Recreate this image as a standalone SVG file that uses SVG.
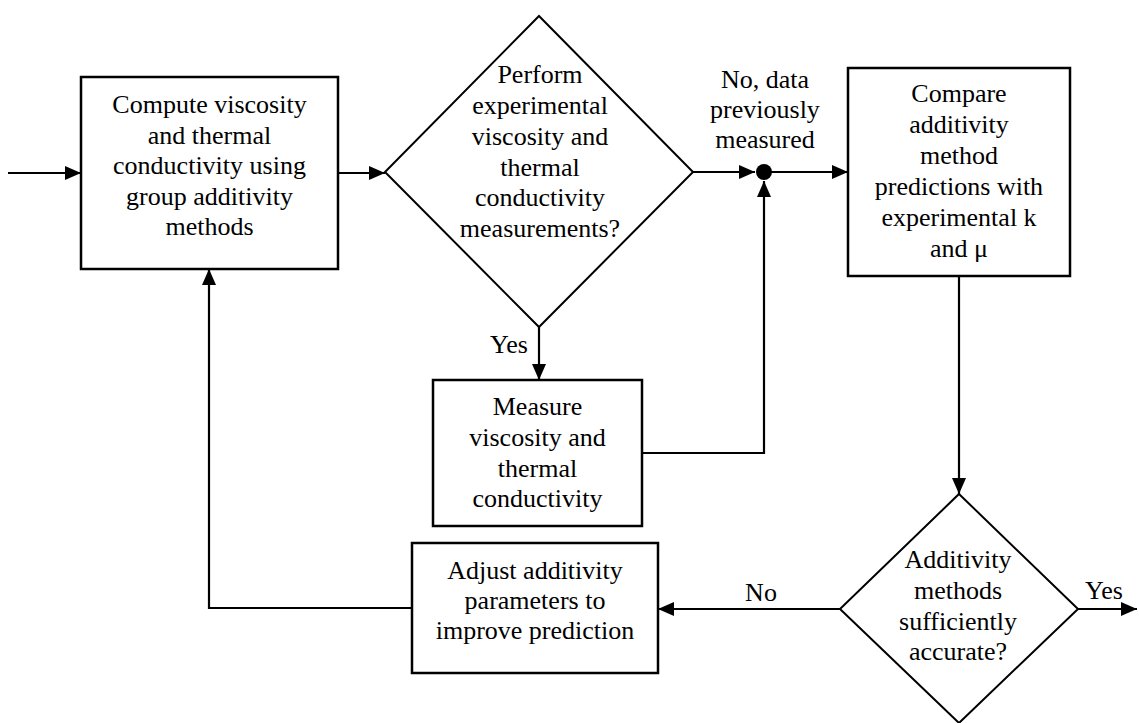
<svg xmlns="http://www.w3.org/2000/svg" width="1139" height="723" viewBox="0 0 1139 723">
<style>
.box{fill:#fff;stroke:#000;stroke-width:2.5}
.dia{fill:#fff;stroke:#000;stroke-width:2}
.con{fill:none;stroke:#000;stroke-width:2.2}
text{font-family:"Liberation Serif","Times New Roman",serif;font-size:26px;fill:#000;text-anchor:middle}
</style>
<defs>
<marker id="arr" markerWidth="16" markerHeight="14" refX="16" refY="7" orient="auto" markerUnits="userSpaceOnUse"><path d="M0,0 L16,7 L0,14 z" fill="#000"/></marker>
</defs>
<rect width="1139" height="723" fill="#fff"/>
<g id="connectors">
<path class="con" d="M8,173 H81" marker-end="url(#arr)"/>
<path class="con" d="M338,173 H385" marker-end="url(#arr)"/>
<path class="con" d="M693,172 H755" marker-end="url(#arr)"/>
<path class="con" d="M764,172 H848" marker-end="url(#arr)"/>
<path class="con" d="M539,327 V380" marker-end="url(#arr)"/>
<path class="con" d="M642,453 H764 V181" marker-end="url(#arr)"/>
<path class="con" d="M959,276 V494" marker-end="url(#arr)"/>
<path class="con" d="M1078,609 H1137" marker-end="url(#arr)"/>
<path class="con" d="M840,609 H658" marker-end="url(#arr)"/>
<path class="con" d="M412,608 H209 V269" marker-end="url(#arr)"/>
<circle cx="764" cy="172" r="8" fill="#000"/>
<text x="765" y="88">No, data</text>
<text x="765" y="118">previously</text>
<text x="765" y="148">measured</text>
<text x="509" y="353">Yes</text>
<text x="761" y="601">No</text>
<text x="1104" y="599">Yes</text>
</g>
<g id="compute">
<rect class="box" x="81" y="77" width="257" height="192"/>
<text x="209.5" y="113">Compute viscosity</text>
<text x="209.5" y="143.5">and thermal</text>
<text x="209.5" y="174">conductivity using</text>
<text x="209.5" y="204.5">group additivity</text>
<text x="209.5" y="235">methods</text>
</g>
<g id="perform">
<polygon class="dia" points="539,16 693,172 539,327 385,172"/>
<text x="540" y="83">Perform</text>
<text x="540" y="114">experimental</text>
<text x="540" y="145">viscosity and</text>
<text x="540" y="176">thermal</text>
<text x="540" y="206">conductivity</text>
<text x="540" y="237">measurements?</text>
</g>
<g id="measure">
<rect class="box" x="433" y="380" width="209" height="146"/>
<text x="537.5" y="415">Measure</text>
<text x="537.5" y="446">viscosity and</text>
<text x="537.5" y="477">thermal</text>
<text x="537.5" y="507">conductivity</text>
</g>
<g id="compare">
<rect class="box" x="848" y="68" width="222" height="208"/>
<text x="959" y="102">Compare</text>
<text x="959" y="133">additivity</text>
<text x="959" y="164">method</text>
<text x="959" y="195">predictions with</text>
<text x="959" y="226">experimental k</text>
<text x="959" y="257">and μ</text>
</g>
<g id="accurate">
<polygon class="dia" points="959,494 1078,609 959,723 840,609"/>
<text x="958" y="568">Additivity</text>
<text x="958" y="599">methods</text>
<text x="958" y="630">sufficiently</text>
<text x="958" y="660">accurate?</text>
</g>
<g id="adjust">
<rect class="box" x="412" y="543" width="246" height="130"/>
<text x="535" y="579">Adjust additivity</text>
<text x="535" y="609">parameters to</text>
<text x="535" y="639">improve prediction</text>
</g>
</svg>
